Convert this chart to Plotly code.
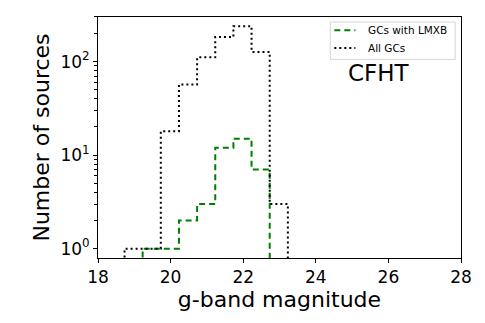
import plotly.graph_objs as go

# bin edges (g mag) and counts
edges = [18.73, 19.23, 19.73, 20.23, 20.73, 21.23, 21.73, 22.23, 22.73, 23.23]
all_gcs = [1, 1, 18, 57, 111, 183, 239, 127, 3]
lmxb_edges = [19.23, 19.73, 20.23, 20.73, 21.23, 21.73, 22.23, 22.73]
lmxb_gcs = [1, 1, 2, 3, 12, 15, 7]

FLOOR = 0.3  # below the visible axis, so the step outline drops off the bottom


def step(e, c):
    x = [e[0]] + list(e)
    y = [FLOOR] + list(c) + [FLOOR]
    return x, y


xg, yg = step(lmxb_edges, lmxb_gcs)
xa, ya = step(edges, all_gcs)

green_line = dict(color="green", width=2, dash="6px,4px")
black_line = dict(color="black", width=2, dash="2px,3px")

fig = go.Figure()
fig.add_trace(go.Scatter(x=xg, y=yg, mode="lines", line_shape="hv",
                         line=green_line, name="GCs with LMXB"))
fig.add_trace(go.Scatter(x=xa, y=ya, mode="lines", line_shape="hv",
                         line=black_line, name="All GCs"))

# compact legend box (plotly's own legend rows are too tall here)
fig.add_shape(type="rect", xref="paper", yref="paper", x0=0.640, x1=0.984, y0=0.824, y1=0.979,
              line=dict(color="#d6d6d6", width=1), fillcolor="white", layer="above")
for label, ly, style in [("GCs with LMXB", 0.945, green_line), ("All GCs", 0.871, black_line)]:
    fig.add_shape(type="line", xref="paper", yref="paper", x0=0.651, x1=0.709, y0=ly, y1=ly,
                  line=style, layer="above")
    fig.add_annotation(text=label, xref="paper", yref="paper", x=0.737, y=ly,
                       xanchor="left", yanchor="middle", showarrow=False,
                       font=dict(size=10.5, color="black"))

fig.add_annotation(text="CFHT", xref="paper", yref="paper", x=0.775, y=0.766,
                   xanchor="center", yanchor="middle",
                   showarrow=False, font=dict(size=23, color="black"))

minor_vals = [m * 10 ** k for k in range(0, 3) for m in range(2, 10)]

# page body has an 8px margin, so the figure is a bit smaller than the window
fig.update_layout(
    width=477, height=315,
    margin=dict(l=90, r=24, t=9, b=65, autoexpand=False),
    paper_bgcolor="white", plot_bgcolor="white",
    font=dict(family="DejaVu Sans", color="black"),
    showlegend=False,
    xaxis=dict(range=[18, 28], tickvals=[18, 20, 22, 24, 26, 28], automargin=False,
               ticks="outside", ticklen=4, tickcolor="black",
               showline=True, mirror=True, linecolor="black", linewidth=1,
               showgrid=False, zeroline=False, tickfont=dict(size=17),
               title=dict(text="g-band magnitude", font=dict(size=22), standoff=0)),
    yaxis=dict(type="log", range=[-0.1, 2.477], automargin=False,
               tickvals=[1, 10, 100],
               ticktext=["10<sup>0</sup>", "10<sup>1</sup>", "10<sup>2</sup>"],
               ticks="outside", ticklen=4, tickcolor="black",
               minor=dict(tickmode="array", tickvals=minor_vals, ticks="outside",
                          ticklen=3, tickwidth=1, tickcolor="black"),
               showline=True, mirror=True, linecolor="black", linewidth=1,
               showgrid=False, zeroline=False, tickfont=dict(size=17),
               title=dict(text="Number of sources", font=dict(size=22), standoff=4)),
)

fig.write_html("out.html")
